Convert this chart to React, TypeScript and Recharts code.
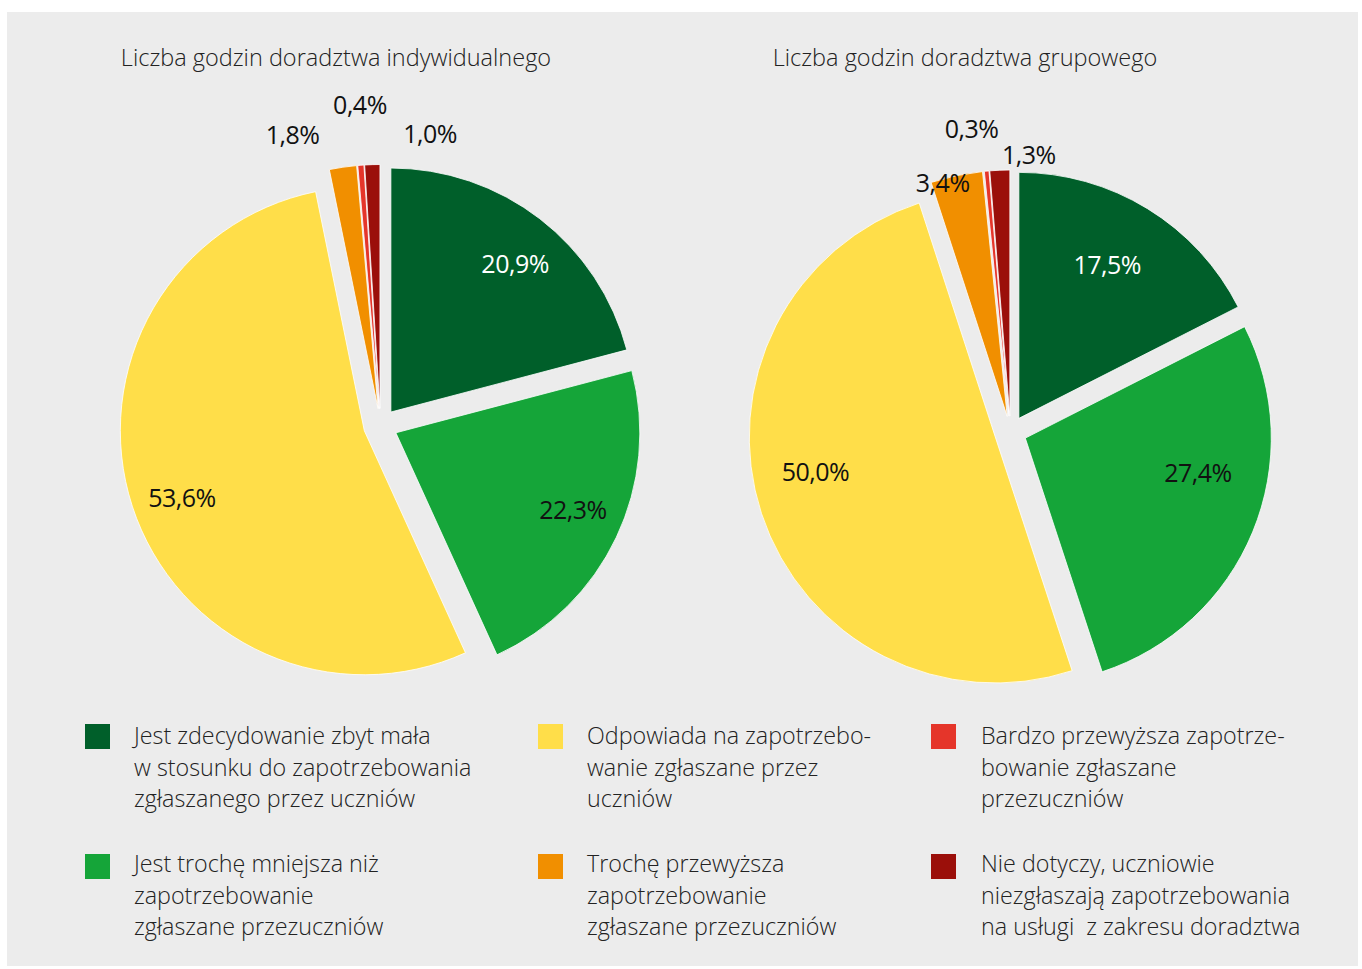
import React from "react";
import { PieChart, Pie, Cell, Sector } from "recharts";

// Slice order: clockwise from 12 o'clock
const CATEGORY_LINES = [
  ["Jest zdecydowanie zbyt mała", "w stosunku do zapotrzebowania", "zgłaszanego przez uczniów"],
  ["Jest trochę mniejsza niż", "zapotrzebowanie", "zgłaszane przezuczniów"],
  ["Odpowiada na zapotrzebo-", "wanie zgłaszane przez", "uczniów"],
  ["Trochę przewyższa", "zapotrzebowanie", "zgłaszane przezuczniów"],
  ["Bardzo przewyższa zapotrze-", "bowanie zgłaszane", "przezuczniów"],
  ["Nie dotyczy, uczniowie", "niezgłaszają zapotrzebowania", "na usługi  z zakresu doradztwa"],
];
const COLORS = ["#005f2a", "#15a539", "#ffde49", "#f18f00", "#e5352a", "#9b0f0a"];
const LABEL_COLORS = ["#ffffff", "#111111", "#111111", "#111111", "#111111", "#111111"];

const TITLES = ["Liczba godzin doradztwa indywidualnego", "Liczba godzin doradztwa grupowego"];
const INDIVIDUAL = [20.9, 22.3, 53.6, 1.8, 0.4, 1.0];
const GROUP = [17.5, 27.4, 50.0, 3.4, 0.3, 1.3];

// label placement: [angle nudge in degrees, distance from slice apex]
const LEFT_LABEL_PLACE = [[2.2, 194], [-2, 193], [-2, 194], [-9, 288], [0.7, 305], [12.1, 280]];
const RIGHT_LABEL_PLACE = [[-1.8, 178], [-11.2, 176], [7.4, 183], [-3.5, 243], [-2.2, 290], [6.5, 263]];

const RAD = Math.PI / 180;
const FONT = "'Open Sans', 'Noto Sans', sans-serif";

const toRows = (values: number[]) =>
  values.map((v, i) => ({ name: CATEGORY_LINES[i].join(" "), value: v }));

const fmt = (v: number) => v.toFixed(1).replace(".", ",") + "%";

function explodedShape(dist: number) {
  return (props: any) => {
    const { cx, cy, midAngle } = props;
    const dx = dist * Math.cos(-midAngle * RAD);
    const dy = dist * Math.sin(-midAngle * RAD);
    return <Sector {...props} cx={cx + dx} cy={cy + dy} />;
  };
}

function makeLabel(dist: number, place: number[][]) {
  return (props: any) => {
    const { cx, cy, midAngle, index, value } = props;
    const ex = cx + dist * Math.cos(-midAngle * RAD);
    const ey = cy + dist * Math.sin(-midAngle * RAD);
    const [nudge, r] = place[index];
    const theta = (90 - midAngle + nudge) * RAD; // clockwise from top
    const x = ex + r * Math.sin(theta);
    const y = ey - r * Math.cos(theta);
    return (
      <text
        key={`lbl-${index}`}
        x={x}
        y={y}
        textAnchor="middle"
        dominantBaseline="central"
        fill={LABEL_COLORS[index]}
        fontSize={25}
        letterSpacing={-0.5}
        fontFamily={FONT}
      >
        {fmt(value)}
      </text>
    );
  };
}

const LEGEND_COLS = [
  { box: 85, text: 134, items: [0, 1] },
  { box: 538, text: 587, items: [2, 3] },
  { box: 931, text: 981, items: [4, 5] },
];
const LEGEND_ROWS = [720, 848];

export default function App() {
  return (
    <div style={{ position: "relative", width: 1362, height: 969, background: "#fff", fontFamily: FONT }}>
      <style>{"body{margin:0}"}</style>
      <div
        style={{ position: "absolute", left: 7, top: 12, width: 1351, height: 954, background: "#ececec" }}
      />
      {TITLES.map((t, i) => (
        <div
          key={t}
          style={{
            position: "absolute",
            left: i === 0 ? 86 : 715,
            width: 500,
            top: 41,
            textAlign: "center",
            fontSize: 23.5,
            fontWeight: 300,
            color: "#222",
            whiteSpace: "nowrap",
            lineHeight: "32px",
          }}
        >
          {t}
        </div>
      ))}
      <div style={{ position: "absolute", left: 0, top: 0 }}>
        <PieChart width={1362} height={700} margin={{ top: 0, right: 0, bottom: 0, left: 0 }}>
          <Pie
            data={toRows(INDIVIDUAL)}
            dataKey="value"
            cx={380.5}
            cy={425.5}
            outerRadius={244}
            startAngle={90}
            endAngle={-270}
            stroke="#ffffff"
            strokeWidth={0.8}
            shape={explodedShape(17)}
            label={makeLabel(17, LEFT_LABEL_PLACE)}
            labelLine={false}
            isAnimationActive={false}
          >
            {INDIVIDUAL.map((_, i) => (
              <Cell key={i} fill={COLORS[i]} />
            ))}
          </Pie>
          <Pie
            data={toRows(GROUP)}
            dataKey="value"
            cx={1010.5}
            cy={432}
            outerRadius={246}
            startAngle={90}
            endAngle={-270}
            stroke="#ffffff"
            strokeWidth={0.8}
            shape={explodedShape(16)}
            label={makeLabel(16, RIGHT_LABEL_PLACE)}
            labelLine={false}
            isAnimationActive={false}
          >
            {GROUP.map((_, i) => (
              <Cell key={i} fill={COLORS[i]} />
            ))}
          </Pie>
        </PieChart>
      </div>
      {LEGEND_COLS.map((col) =>
        col.items.map((idx, row) => (
          <React.Fragment key={idx}>
            <div
              style={{
                position: "absolute",
                left: col.box,
                top: row === 0 ? 724 : 854,
                width: 25,
                height: 25,
                background: COLORS[idx],
              }}
            />
            <div
              style={{
                position: "absolute",
                left: col.text,
                top: LEGEND_ROWS[row],
                fontSize: 23.3,
                fontWeight: 300,
                lineHeight: "31.5px",
                color: "#222",
                whiteSpace: "pre",
              }}
            >
              {CATEGORY_LINES[idx].join("\n")}
            </div>
          </React.Fragment>
        ))
      )}
    </div>
  );
}
